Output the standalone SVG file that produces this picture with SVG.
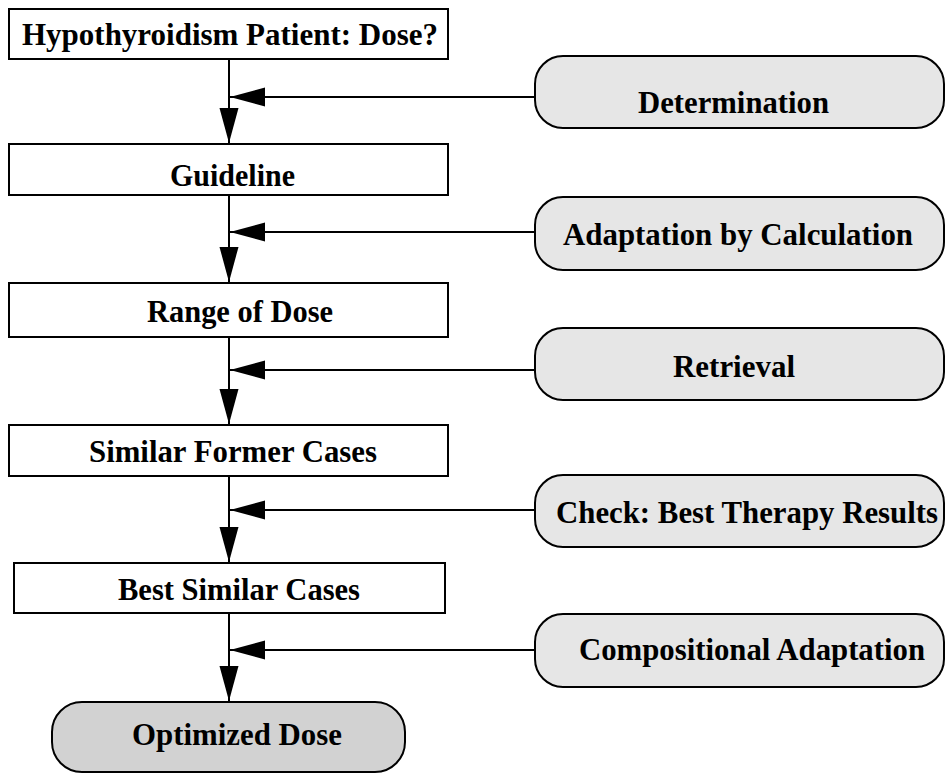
<svg xmlns="http://www.w3.org/2000/svg" width="946" height="774" viewBox="0 0 946 774">
<style>
.box{fill:#ffffff;stroke:#000;stroke-width:2}
.pill{fill:#e6e6e6;stroke:#000;stroke-width:2}
.end{fill:#d2d2d2;stroke:#000;stroke-width:2}
.t{font-family:"Liberation Serif","Times New Roman",serif;font-weight:bold;font-size:31px;fill:#000}
.c{fill:none;stroke:#000;stroke-width:2}
</style>
<defs>
<marker id="ah" markerUnits="userSpaceOnUse" markerWidth="36" markerHeight="22" refX="35" refY="11" orient="auto">
<path d="M0,1.5 L35,11 L0,20.5 Z" fill="#000"/>
</marker>
</defs>
<g id="connectors">
<line class="c" x1="229" y1="59" x2="229" y2="143" marker-end="url(#ah)"/>
<line class="c" x1="229" y1="195" x2="229" y2="282" marker-end="url(#ah)"/>
<line class="c" x1="229" y1="337" x2="229" y2="424" marker-end="url(#ah)"/>
<line class="c" x1="229" y1="476" x2="229" y2="562" marker-end="url(#ah)"/>
<line class="c" x1="229" y1="613" x2="229" y2="701" marker-end="url(#ah)"/>
<line class="c" x1="535" y1="97" x2="230" y2="97" marker-end="url(#ah)"/>
<line class="c" x1="535" y1="232" x2="230" y2="232" marker-end="url(#ah)"/>
<line class="c" x1="535" y1="370" x2="230" y2="370" marker-end="url(#ah)"/>
<line class="c" x1="535" y1="510" x2="230" y2="510" marker-end="url(#ah)"/>
<line class="c" x1="535" y1="650" x2="230" y2="650" marker-end="url(#ah)"/>
</g>
<g id="patient">
<rect class="box" x="9" y="9" width="439" height="50"/>
<text class="t" x="22" y="45" textLength="416" lengthAdjust="spacingAndGlyphs">Hypothyroidism Patient: Dose?</text>
</g>
<g id="guideline">
<rect class="box" x="9" y="144" width="439" height="51"/>
<text class="t" x="170" y="186" textLength="125" lengthAdjust="spacingAndGlyphs">Guideline</text>
</g>
<g id="range">
<rect class="box" x="9" y="283" width="439" height="54"/>
<text class="t" x="147" y="322" textLength="186" lengthAdjust="spacingAndGlyphs">Range of Dose</text>
</g>
<g id="similar">
<rect class="box" x="9" y="425" width="439" height="51"/>
<text class="t" x="89" y="462" textLength="288" lengthAdjust="spacingAndGlyphs">Similar Former Cases</text>
</g>
<g id="best">
<rect class="box" x="14" y="563" width="431" height="50"/>
<text class="t" x="118" y="600" textLength="242" lengthAdjust="spacingAndGlyphs">Best Similar Cases</text>
</g>
<g id="optimized">
<rect class="end" x="52" y="702" width="353" height="70" rx="30" ry="30"/>
<text class="t" x="132" y="745" textLength="210" lengthAdjust="spacingAndGlyphs">Optimized Dose</text>
</g>
<g id="determination">
<rect class="pill" x="535" y="56" width="409" height="72" rx="28" ry="28"/>
<text class="t" x="638" y="113" textLength="191" lengthAdjust="spacingAndGlyphs">Determination</text>
</g>
<g id="adaptation">
<rect class="pill" x="535" y="197" width="409" height="73" rx="28" ry="28"/>
<text class="t" x="563" y="245" textLength="350" lengthAdjust="spacingAndGlyphs">Adaptation by Calculation</text>
</g>
<g id="retrieval">
<rect class="pill" x="535" y="328" width="409" height="72" rx="28" ry="28"/>
<text class="t" x="673" y="377" textLength="122" lengthAdjust="spacingAndGlyphs">Retrieval</text>
</g>
<g id="check">
<rect class="pill" x="535" y="475" width="409" height="72" rx="28" ry="28"/>
<text class="t" x="556" y="523" textLength="382" lengthAdjust="spacingAndGlyphs">Check: Best Therapy Results</text>
</g>
<g id="compositional">
<rect class="pill" x="535" y="614" width="409" height="73" rx="28" ry="28"/>
<text class="t" x="579" y="660" textLength="346" lengthAdjust="spacingAndGlyphs">Compositional Adaptation</text>
</g>
</svg>
